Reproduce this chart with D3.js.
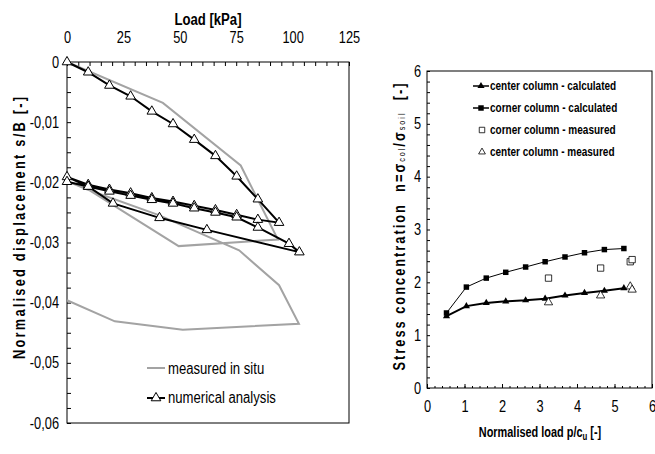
<!DOCTYPE html>
<html>
<head>
<meta charset="utf-8">
<script src="https://cdn.jsdelivr.net/npm/d3@7"></script>
<style>
  body { margin: 0; background: #ffffff; }
  svg { display: block; font-family: "Liberation Sans", Arial, sans-serif; }
</style>
</head>
<body>
<svg id="chart" width="655" height="454"></svg>
<script>
// left chart - load vs normalised displacement
const numLoad = [0, 9.4, 18.8, 28.2, 37.6, 47, 56.4, 65.8, 75.2, 84.6, 94,
  84.6, 75.2, 65.8, 56.4, 47, 37.6, 28.2, 18.8, 9.4, 0,
  9.4, 18.8, 28.2, 37.6, 47, 56.4, 65.8, 75.2, 84.6, 98.4, 103,
  62, 41, 20.4, 9.4, 0]
const numDisp = [0, -0.0017, -0.0039, -0.0057, -0.0082, -0.0103, -0.0129, -0.0156, -0.0190, -0.0228, -0.0267,
  -0.0262, -0.0254, -0.0246, -0.0239, -0.0232, -0.0226, -0.0218, -0.0212, -0.0204, -0.0191,
  -0.0207, -0.0215, -0.0222, -0.0229, -0.0235, -0.0243, -0.0250, -0.0258, -0.0275, -0.0302, -0.0316,
  -0.0279, -0.0259, -0.0235, -0.0207, -0.0199]

const measLoad = [0, 42.5, 77, 93.5, 49.5, 9, 0, 9, 41, 76.3, 94, 102.8, 51.3, 21.2, 0]
const measDisp = [0, -0.0068, -0.0172, -0.0295, -0.0306, -0.0211, -0.0198, -0.0212, -0.0255, -0.0313, -0.0371, -0.0435, -0.0445, -0.0431, -0.0396]

const loadTicks = [0, 25, 50, 75, 100, 125]
const dispTicks = [0, -0.01, -0.02, -0.03, -0.04, -0.05, -0.06]

// right chart - stress concentration
const pcu = [0.52, 1.05, 1.58, 2.1, 2.63, 3.15, 3.68, 4.2, 4.73, 5.25]
const centerCalc = [1.36, 1.55, 1.61, 1.64, 1.66, 1.69, 1.75, 1.80, 1.84, 1.89]
const cornerCalc = [1.42, 1.91, 2.08, 2.19, 2.29, 2.39, 2.48, 2.56, 2.62, 2.64]
const measPcu = [3.24, 4.63, 5.42, 5.47]
const cornerMeas = [2.08, 2.27, 2.39, 2.43]
const centerMeas = [1.62, 1.75, 1.92, 1.86]

const svg = d3.select('#chart')
const gray = '#a3a3a3'

// squeeze text horizontally (no narrow font installed)
function narrow(sel, sx) {
  sel.each(function() {
    const t = d3.select(this)
    const x = +t.attr('x') || 0
    t.attr('x', x / sx).attr('transform', (t.attr('transform') || '') + ' scale(' + sx + ',1)')
  })
}

// ---------- left chart ----------
const L = {left: 67, right: 349, top: 62, bottom: 423}
const xL = d3.scaleLinear().domain([0, 125]).range([L.left, L.right])
const yL = d3.scaleLinear().domain([0, -0.06]).range([L.top, L.bottom])

svg.append('rect')
  .attr('x', L.left).attr('y', L.top)
  .attr('width', L.right - L.left).attr('height', L.bottom - L.top)
  .attr('fill', 'none').attr('stroke', '#000').attr('stroke-width', 1)

// top axis minor ticks
svg.append('g')
  .attr('transform', 'translate(0,' + L.top + ')')
  .call(d3.axisTop(xL).tickValues(d3.range(0, 126, 5)).tickFormat('').tickSize(-4).tickSizeOuter(0))
  .call(g => g.select('.domain').remove())
// top axis labels
svg.append('g')
  .attr('transform', 'translate(0,' + L.top + ')')
  .attr('font-family', null)
  .call(d3.axisTop(xL).tickValues(loadTicks).tickSize(0).tickPadding(19))
  .call(g => g.select('.domain').remove())
  .selectAll('text').style('font-size', '16px').call(narrow, 0.8)

// left axis
svg.append('g')
  .attr('transform', 'translate(' + L.left + ',0)')
  .call(d3.axisLeft(yL).tickValues(d3.range(0, 25).map(i => -i * 0.0025)).tickFormat('').tickSize(-4).tickSizeOuter(0))
  .call(g => g.select('.domain').remove())
svg.append('g')
  .attr('transform', 'translate(' + L.left + ',0)')
  .call(d3.axisLeft(yL).tickValues(dispTicks).tickSize(0).tickPadding(8)
    .tickFormat(d => d === 0 ? '0' : d.toFixed(2).replace('.', ',')))
  .call(g => g.select('.domain').remove())
  .attr('font-family', null)
  .selectAll('text').style('font-size', '16px').call(narrow, 0.8)

svg.append('text')
  .attr('x', 208).attr('y', 25)
  .attr('text-anchor', 'middle')
  .style('font-size', '16px').style('font-weight', 'bold')
  .text('Load [kPa]')
  .call(narrow, 0.82)

svg.append('text')
  .attr('transform', 'translate(25,228) rotate(-90) scale(0.8,1)')
  .attr('text-anchor', 'middle')
  .attr('textLength', 262 / 0.8).attr('lengthAdjust', 'spacing')
  .style('font-size', '16px').style('font-weight', 'bold')
  .text('Normalised displacement s/B [-]')

const lineL = d3.line().x(d => xL(d[0])).y(d => yL(d[1]))

svg.append('path')
  .datum(d3.zip(measLoad, measDisp))
  .attr('d', lineL)
  .attr('fill', 'none').attr('stroke', gray).attr('stroke-width', 2)

svg.append('path')
  .datum(d3.zip(numLoad, numDisp))
  .attr('d', lineL)
  .attr('fill', 'none').attr('stroke', '#000').attr('stroke-width', 2)

const tri = d3.symbol(d3.symbolTriangle).size(40)
svg.append('g')
  .selectAll('path')
  .data(d3.zip(numLoad, numDisp))
  .join('path')
    .attr('d', tri)
    .attr('transform', d => 'translate(' + xL(d[0]) + ',' + yL(d[1]) + ')')
    .attr('fill', '#fff').attr('stroke', '#000').attr('stroke-width', 1)

// left legend
const legL = svg.append('g').style('font-size', '16px')
legL.append('line').attr('x1', 147).attr('x2', 165).attr('y1', 368).attr('y2', 368)
  .attr('stroke', gray).attr('stroke-width', 2)
legL.append('text').attr('x', 168).attr('y', 374).text('measured in situ').call(narrow, 0.82)
legL.append('line').attr('x1', 147).attr('x2', 165).attr('y1', 398).attr('y2', 398)
  .attr('stroke', '#000').attr('stroke-width', 2)
legL.append('path').attr('d', tri).attr('transform', 'translate(156,398)')
  .attr('fill', '#fff').attr('stroke', '#000')
legL.append('text').attr('x', 168).attr('y', 403).text('numerical analysis').call(narrow, 0.82)

// ---------- right chart ----------
const R = {left: 427, right: 652, top: 71, bottom: 388}
const xR = d3.scaleLinear().domain([0, 6]).range([R.left, R.right])
const yR = d3.scaleLinear().domain([0, 6]).range([R.bottom, R.top])

svg.append('rect')
  .attr('x', R.left).attr('y', R.top)
  .attr('width', R.right - R.left).attr('height', R.bottom - R.top)
  .attr('fill', 'none').attr('stroke', '#000').attr('stroke-width', 1)

svg.append('g')
  .attr('transform', 'translate(0,' + R.bottom + ')')
  .call(d3.axisBottom(xR).tickValues(d3.range(0, 31).map(i => i * 0.2)).tickFormat('').tickSize(-2).tickSizeOuter(0))
  .call(g => g.select('.domain').remove())
svg.append('g')
  .attr('transform', 'translate(0,' + R.bottom + ')')
  .call(d3.axisBottom(xR).ticks(6).tickSize(-4).tickSizeOuter(0).tickPadding(13))
  .call(g => g.select('.domain').remove())
  .attr('font-family', null)
  .selectAll('text').style('font-size', '16px').call(narrow, 0.8)

svg.append('g')
  .attr('transform', 'translate(' + R.left + ',0)')
  .call(d3.axisLeft(yR).tickValues(d3.range(0, 31).map(i => i * 0.2)).tickFormat('').tickSize(-3).tickSizeOuter(0))
  .call(g => g.select('.domain').remove())
svg.append('g')
  .attr('transform', 'translate(' + R.left + ',0)')
  .call(d3.axisLeft(yR).ticks(6).tickSize(0).tickPadding(6))
  .call(g => g.select('.domain').remove())
  .attr('font-family', null)
  .selectAll('text').style('font-size', '16px').call(narrow, 0.8)

// axis titles
const xTitle = svg.append('text')
  .attr('x', 540).attr('y', 437)
  .attr('text-anchor', 'middle')
  .style('font-size', '14px').style('font-weight', 'bold')
xTitle.append('tspan').text('Normalised load p/c')
xTitle.append('tspan').attr('dy', 3).style('font-size', '10px').text('u')
xTitle.append('tspan').attr('dy', -3).text(' [-]')
xTitle.call(narrow, 0.78)

const yTitle = svg.append('text')
  .attr('transform', 'translate(405,227) rotate(-90) scale(0.8,1)')
  .attr('text-anchor', 'middle')
  .attr('textLength', 287 / 0.8).attr('lengthAdjust', 'spacing')
  .style('font-size', '16px').style('font-weight', 'bold').style('white-space', 'pre')
yTitle.append('tspan').text('Stress concentration  n=σ')
yTitle.append('tspan').style('font-size', '9px').style('font-weight', 'normal').text('col')
yTitle.append('tspan').text('/σ')
yTitle.append('tspan').style('font-size', '9px').style('font-weight', 'normal').text('soil')
yTitle.append('tspan').text('  [-]')

const lineR = d3.line().x(d => xR(d[0])).y(d => yR(d[1]))

svg.append('path')
  .datum(d3.zip(pcu, cornerCalc))
  .attr('d', lineR)
  .attr('fill', 'none').attr('stroke', '#000').attr('stroke-width', 1)
svg.append('path')
  .datum(d3.zip(pcu, centerCalc))
  .attr('d', lineR)
  .attr('fill', 'none').attr('stroke', '#000').attr('stroke-width', 2)

const sq = d3.symbol(d3.symbolSquare).size(30)
const triS = d3.symbol(d3.symbolTriangle).size(22)
const openSq = d3.symbol(d3.symbolSquare).size(40)
const openTri = d3.symbol(d3.symbolTriangle).size(30)
const legSq = d3.symbol(d3.symbolSquare).size(30)
const legTri = d3.symbol(d3.symbolTriangle).size(20)

svg.append('g').selectAll('path')
  .data(d3.zip(pcu, cornerCalc)).join('path')
    .attr('d', sq)
    .attr('transform', d => 'translate(' + xR(d[0]) + ',' + yR(d[1]) + ')')
    .attr('fill', '#000')
svg.append('g').selectAll('path')
  .data(d3.zip(pcu, centerCalc)).join('path')
    .attr('d', triS)
    .attr('transform', d => 'translate(' + xR(d[0]) + ',' + yR(d[1]) + ')')
    .attr('fill', '#000')
svg.append('g').selectAll('path')
  .data(d3.zip(measPcu, cornerMeas)).join('path')
    .attr('d', openSq)
    .attr('transform', d => 'translate(' + xR(d[0]) + ',' + yR(d[1]) + ')')
    .attr('fill', '#fff').attr('stroke', '#000').attr('stroke-width', 0.8)
svg.append('g').selectAll('path')
  .data(d3.zip(measPcu, centerMeas)).join('path')
    .attr('d', openTri)
    .attr('transform', d => 'translate(' + xR(d[0]) + ',' + yR(d[1]) + ')')
    .attr('fill', '#fff').attr('stroke', '#000').attr('stroke-width', 0.8)

// right legend
const legR = svg.append('g').style('font-size', '13px').style('font-weight', 'bold')
const legItems = [
  {label: 'center column - calculated', y: 86, kind: 'line', sym: triS},
  {label: 'corner column - calculated', y: 108, kind: 'line', sym: sq},
  {label: 'corner column - measured', y: 130, kind: 'open', sym: legSq},
  {label: 'center column - measured', y: 152, kind: 'open', sym: legTri}
]
legItems.forEach(it => {
  if (it.kind === 'line') {
    legR.append('line').attr('x1', 473).attr('x2', 489).attr('y1', it.y).attr('y2', it.y)
      .attr('stroke', '#000').attr('stroke-width', 1.5)
    legR.append('path').attr('d', it.sym).attr('transform', 'translate(481,' + it.y + ')').attr('fill', '#000')
  } else {
    legR.append('path').attr('d', it.sym).attr('transform', 'translate(482,' + it.y + ')')
      .attr('fill', '#fff').attr('stroke', '#000').attr('stroke-width', 0.8)
  }
  legR.append('text').attr('x', 490).attr('y', it.y + 4).text(it.label).call(narrow, 0.77)
})
</script>
</body>
</html>
